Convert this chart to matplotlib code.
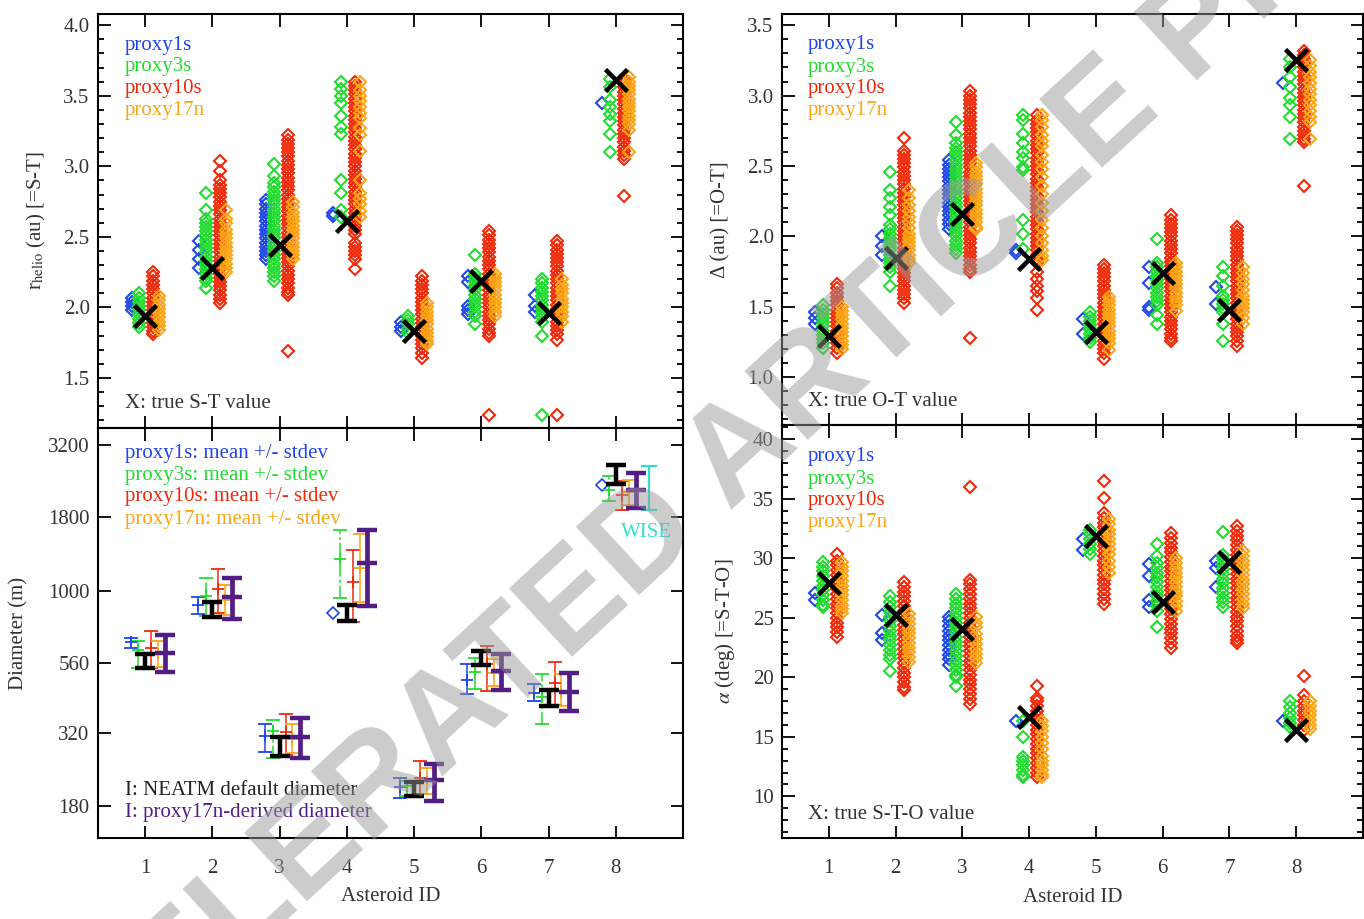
import numpy as np
import matplotlib
matplotlib.use("Agg")
import matplotlib.pyplot as plt
from matplotlib.ticker import MultipleLocator, NullLocator, FixedLocator, FixedFormatter

plt.rcParams['font.family'] = ['Liberation Serif', 'DejaVu Serif']
plt.rcParams['mathtext.fontset'] = 'stix'

ids = [1, 2, 3, 4, 5, 6, 7, 8]
proxies = ["proxy1s", "proxy3s", "proxy10s", "proxy17n"]

# colours per proxy
C_BLUE = '#2046e8'
C_GREEN = '#22dc30'
C_RED = '#ee2a0a'
C_ORANGE = '#fca516'
C_PURPLE = '#521d85'
C_CYAN = '#2ee0d0'
TXT = '#333333'

# ---- heliocentric distance r (au), one list per asteroid ----
r_p1s = [
    [2.07, 2.04, 2.01, 1.98],
    [2.47, 2.41, 2.34, 2.28],
    [2.76, 2.73, 2.70, 2.67, 2.64, 2.61, 2.58, 2.55, 2.52, 2.49, 2.46, 2.43, 2.40, 2.37, 2.34],
    [2.67, 2.65],
    [1.90, 1.86, 1.83],
    [2.22, 2.18, 2.01, 1.98, 1.95],
    [2.09, 2.01, 1.97],
    [3.45],
]
r_p3s = [
    [2.10, 2.07, 2.04, 2.01, 1.98, 1.95, 1.92, 1.89, 1.86],
    [2.81, 2.69, 2.63, 2.60, 2.57, 2.54, 2.51, 2.48, 2.45, 2.42, 2.39, 2.36, 2.33, 2.30, 2.27, 2.24, 2.21, 2.19, 2.14],
    [3.02, 2.93, 2.88, 2.85, 2.82, 2.79, 2.76, 2.73, 2.70, 2.67, 2.64, 2.61, 2.58, 2.55, 2.52, 2.49, 2.46, 2.43,
     2.40, 2.37, 2.34, 2.31, 2.28, 2.25, 2.22, 2.19],
    [3.60, 3.55, 3.50, 3.45, 3.36, 3.28, 3.23, 2.90, 2.81, 2.69, 2.64],
    [1.94, 1.91, 1.88, 1.85, 1.82],
    [2.37, 2.24, 2.21, 2.18, 2.15, 2.12, 2.09, 2.06, 2.03, 2.00, 1.97, 1.94, 1.88],
    [2.20, 2.17, 2.14, 2.11, 2.08, 2.05, 2.02, 1.99, 1.96, 1.93, 1.90, 1.80, 1.24],
    [3.62, 3.56, 3.47, 3.42, 3.37, 3.32, 3.23, 3.10],
]
r_p10s = [
    [2.25, 2.22, 2.19, 2.16, 2.13, 2.10, 2.07, 2.04, 2.01, 1.98, 1.95, 1.92, 1.89, 1.86, 1.83, 1.81],
    [3.04, 2.97, 2.90, 2.87, 2.84, 2.81, 2.78, 2.75, 2.72, 2.69, 2.66, 2.63, 2.60, 2.57, 2.54, 2.51, 2.48, 2.45,
     2.42, 2.39, 2.36, 2.33, 2.30, 2.27, 2.24, 2.21, 2.18, 2.15, 2.12, 2.09, 2.06, 2.03],
    [3.22, 3.19, 3.16, 3.13, 3.10, 3.07, 3.04, 3.01, 2.98, 2.95, 2.92, 2.89, 2.86, 2.83, 2.80, 2.77, 2.74, 2.71,
     2.68, 2.65, 2.62, 2.59, 2.56, 2.53, 2.50, 2.47, 2.44, 2.41, 2.38, 2.35, 2.32, 2.29, 2.26, 2.23, 2.20, 2.17,
     2.14, 2.11, 2.09, 1.69],
    [3.60, 3.57, 3.54, 3.51, 3.48, 3.45, 3.42, 3.39, 3.36, 3.33, 3.30, 3.27, 3.24, 3.21, 3.18, 3.15, 3.12, 3.09,
     3.06, 3.03, 3.00, 2.97, 2.94, 2.91, 2.88, 2.85, 2.82, 2.79, 2.76, 2.73, 2.70, 2.67, 2.64, 2.61, 2.58, 2.55,
     2.52, 2.46, 2.43, 2.40, 2.37, 2.34, 2.27],
    [2.22, 2.19, 2.16, 2.13, 2.10, 2.07, 2.04, 2.01, 1.98, 1.95, 1.92, 1.89, 1.86, 1.83, 1.80, 1.77, 1.74, 1.71,
     1.68, 1.64],
    [2.54, 2.51, 2.48, 2.45, 2.42, 2.39, 2.36, 2.33, 2.30, 2.27, 2.24, 2.21, 2.18, 2.15, 2.12, 2.09, 2.06, 2.03,
     2.00, 1.97, 1.94, 1.91, 1.88, 1.85, 1.82, 1.80, 1.24],
    [2.47, 2.44, 2.41, 2.38, 2.35, 2.32, 2.29, 2.26, 2.23, 2.20, 2.17, 2.14, 2.11, 2.08, 2.05, 2.02, 1.99, 1.96,
     1.93, 1.90, 1.87, 1.84, 1.81, 1.77, 1.24],
    [3.62, 3.59, 3.56, 3.53, 3.50, 3.47, 3.44, 3.41, 3.38, 3.35, 3.32, 3.29, 3.26, 3.23, 3.20, 3.17, 3.14, 3.11,
     3.08, 3.05, 2.79],
]
r_p17n = [
    [2.08, 2.05, 2.02, 1.99, 1.96, 1.93, 1.90, 1.87, 1.84],
    [2.69, 2.63, 2.60, 2.55, 2.52, 2.49, 2.46, 2.43, 2.40, 2.37, 2.34, 2.31, 2.28, 2.25],
    [2.75, 2.71, 2.67, 2.64, 2.61, 2.58, 2.55, 2.52, 2.49, 2.46, 2.43, 2.40, 2.37, 2.34],
    [3.60, 3.54, 3.50, 3.46, 3.42, 3.38, 3.34, 3.27, 3.22, 3.11, 2.90, 2.81, 2.77, 2.73, 2.68, 2.64],
    [2.03, 2.00, 1.97, 1.94, 1.91, 1.88, 1.85, 1.82, 1.79, 1.76, 1.74],
    [2.24, 2.21, 2.18, 2.15, 2.12, 2.09, 2.06, 2.03, 2.00, 1.97, 1.94],
    [2.20, 2.16, 2.13, 2.10, 2.06, 2.03, 2.00, 1.97, 1.94, 1.90],
    [3.63, 3.60, 3.57, 3.54, 3.51, 3.48, 3.45, 3.42, 3.39, 3.36, 3.33, 3.30, 3.26, 3.10],
]
r_true = [1.94, 2.28, 2.44, 2.61, 1.83, 2.19, 1.96, 3.61]

# ---- observer distance Delta (au) ----
d_p1s = [
    [1.46, 1.42, 1.38],
    [2.00, 1.93, 1.87],
    [2.54, 2.51, 2.48, 2.45, 2.42, 2.39, 2.36, 2.33, 2.30, 2.27, 2.24, 2.21, 2.18, 2.15, 2.12, 2.09, 2.05],
    [1.90, 1.88],
    [1.41, 1.31],
    [1.78, 1.67, 1.50, 1.48],
    [1.64, 1.52],
    [3.09],
]
d_p3s = [
    [1.51, 1.48, 1.45, 1.42, 1.39, 1.36, 1.33, 1.30, 1.27, 1.24, 1.21],
    [2.46, 2.33, 2.27, 2.21, 2.15, 2.08, 2.05, 2.02, 1.99, 1.96, 1.93, 1.90, 1.87, 1.84, 1.81, 1.78, 1.75, 1.65],
    [2.81, 2.72, 2.66, 2.63, 2.60, 2.57, 2.54, 2.51, 2.48, 2.45, 2.42, 2.39, 2.36, 2.33, 2.30, 2.27, 2.24, 2.21,
     2.18, 2.15, 2.12, 2.09, 2.06, 2.03, 2.00, 1.97, 1.94, 1.91, 1.88],
    [2.86, 2.83, 2.73, 2.66, 2.60, 2.56, 2.49, 2.47, 2.12, 2.02, 1.91],
    [1.46, 1.43, 1.40, 1.37, 1.34, 1.31, 1.28, 1.25],
    [1.98, 1.81, 1.78, 1.75, 1.72, 1.69, 1.66, 1.63, 1.60, 1.57, 1.54, 1.51, 1.44, 1.38],
    [1.78, 1.72, 1.65, 1.58, 1.55, 1.52, 1.49, 1.46, 1.38, 1.26],
    [3.26, 3.20, 3.13, 3.06, 2.98, 2.93, 2.85, 2.69],
]
d_p10s = [
    [1.66, 1.63, 1.60, 1.57, 1.54, 1.51, 1.48, 1.45, 1.42, 1.39, 1.36, 1.33, 1.30, 1.27, 1.24, 1.21, 1.17],
    [2.70, 2.61, 2.58, 2.55, 2.52, 2.49, 2.46, 2.43, 2.40, 2.37, 2.34, 2.31, 2.28, 2.25, 2.22, 2.19, 2.16, 2.13,
     2.10, 2.07, 2.04, 2.01, 1.98, 1.95, 1.92, 1.89, 1.86, 1.83, 1.80, 1.77, 1.74, 1.71, 1.68, 1.65, 1.62, 1.59,
     1.56, 1.53],
    [3.03, 3.00, 2.97, 2.94, 2.91, 2.88, 2.85, 2.82, 2.79, 2.76, 2.73, 2.70, 2.67, 2.64, 2.61, 2.58, 2.55, 2.52,
     2.49, 2.46, 2.43, 2.40, 2.37, 2.34, 2.31, 2.28, 2.25, 2.22, 2.19, 2.16, 2.13, 2.10, 2.07, 2.04, 2.01, 1.98,
     1.95, 1.92, 1.89, 1.86, 1.83, 1.80, 1.77, 1.75, 1.28],
    [2.86, 2.83, 2.80, 2.77, 2.74, 2.71, 2.68, 2.65, 2.62, 2.59, 2.56, 2.53, 2.50, 2.47, 2.44, 2.41, 2.38, 2.35,
     2.32, 2.29, 2.26, 2.23, 2.20, 2.17, 2.14, 2.11, 2.08, 2.05, 2.02, 1.99, 1.96, 1.93, 1.90, 1.87, 1.84, 1.81,
     1.75, 1.70, 1.65, 1.61, 1.56, 1.48],
    [1.80, 1.77, 1.74, 1.71, 1.68, 1.65, 1.62, 1.59, 1.56, 1.53, 1.50, 1.47, 1.44, 1.41, 1.38, 1.35, 1.32, 1.29,
     1.26, 1.23, 1.20, 1.17, 1.13],
    [2.15, 2.12, 2.09, 2.06, 2.03, 2.00, 1.97, 1.94, 1.91, 1.88, 1.85, 1.82, 1.79, 1.76, 1.73, 1.70, 1.67, 1.64,
     1.61, 1.58, 1.55, 1.52, 1.49, 1.46, 1.43, 1.40, 1.37, 1.34, 1.31, 1.28, 1.26],
    [2.07, 2.04, 2.01, 1.98, 1.95, 1.92, 1.89, 1.86, 1.83, 1.80, 1.77, 1.74, 1.71, 1.68, 1.65, 1.62, 1.59, 1.56,
     1.53, 1.50, 1.47, 1.44, 1.41, 1.38, 1.35, 1.32, 1.29, 1.26, 1.22],
    [3.32, 3.29, 3.26, 3.23, 3.20, 3.17, 3.14, 3.11, 3.08, 3.05, 3.02, 2.99, 2.96, 2.93, 2.90, 2.87, 2.84, 2.81,
     2.78, 2.75, 2.72, 2.69, 2.67, 2.36],
]
d_p17n = [
    [1.50, 1.47, 1.44, 1.41, 1.38, 1.35, 1.32, 1.29, 1.26, 1.23, 1.20],
    [2.33, 2.27, 2.22, 2.18, 2.14, 2.10, 2.06, 2.02, 1.99, 1.96, 1.93, 1.90, 1.87, 1.84, 1.81],
    [2.52, 2.49, 2.46, 2.43, 2.40, 2.37, 2.34, 2.31, 2.28, 2.25, 2.22, 2.19, 2.16, 2.13, 2.10, 2.07, 2.05],
    [2.86, 2.83, 2.78, 2.72, 2.68, 2.64, 2.58, 2.53, 2.48, 2.42, 2.36, 2.30, 2.24, 2.18, 2.12, 2.06, 2.00, 1.95,
     1.90, 1.86, 1.83],
    [1.57, 1.54, 1.51, 1.48, 1.45, 1.42, 1.39, 1.36, 1.33, 1.30, 1.27, 1.24, 1.19],
    [1.81, 1.78, 1.75, 1.72, 1.69, 1.66, 1.63, 1.60, 1.57, 1.54, 1.51, 1.47],
    [1.78, 1.74, 1.70, 1.66, 1.62, 1.58, 1.55, 1.52, 1.49, 1.46, 1.42, 1.38],
    [3.25, 3.21, 3.17, 3.13, 3.09, 3.05, 3.01, 2.97, 2.93, 2.89, 2.85, 2.81, 2.69],
]
d_true = [1.29, 1.85, 2.16, 1.84, 1.32, 1.74, 1.48, 3.25]

# ---- phase angle alpha (deg) ----
a_p1s = [
    [27.1, 26.5],
    [25.2, 23.7, 23.1],
    [25.1, 24.7, 24.3, 23.9, 23.5, 23.1, 22.7, 22.3, 21.9, 21.5, 21.0],
    [16.3],
    [31.6, 30.7],
    [29.5, 28.5, 26.5, 25.9],
    [29.8, 29.2, 27.6],
    [16.3],
]
a_p3s = [
    [29.7, 29.3, 28.9, 28.5, 28.1, 27.7, 27.3, 26.9, 26.5, 26.1, 25.9],
    [26.8, 26.3, 25.9, 25.5, 25.1, 24.7, 24.3, 23.9, 23.5, 23.1, 22.7, 22.3, 21.9, 21.5, 20.5],
    [27.0, 26.6, 26.2, 25.8, 25.4, 25.0, 24.6, 24.2, 23.8, 23.4, 23.0, 22.6, 22.2, 21.8, 21.4, 21.0, 20.6, 20.2,
     20.0, 19.3],
    [16.3, 15.0, 13.3, 13.0, 12.6, 12.2, 11.8, 11.6],
    [32.4, 32.0, 31.6, 31.2, 30.8, 30.4],
    [31.2, 30.2, 29.6, 29.2, 28.8, 28.4, 28.0, 27.6, 27.2, 26.8, 26.4, 26.0, 25.6, 24.2],
    [32.2, 30.3, 29.9, 29.5, 29.1, 28.7, 28.3, 27.9, 27.5, 27.1, 26.7, 26.3, 25.9],
    [18.0, 17.5, 17.0, 16.6, 16.2, 15.8],
]
a_p10s = [
    [30.4, 29.8, 29.4, 29.0, 28.6, 28.2, 27.8, 27.4, 27.0, 26.6, 26.2, 25.8, 25.4, 25.0, 24.6, 24.2, 23.8, 23.4],
    [28.0, 27.6, 27.2, 26.8, 26.4, 26.0, 25.6, 25.2, 24.8, 24.4, 24.0, 23.6, 23.2, 22.8, 22.4, 22.0, 21.6, 21.2,
     20.8, 20.4, 20.0, 19.6, 19.2, 18.9],
    [36.0, 28.2, 27.8, 27.4, 27.0, 26.6, 26.2, 25.8, 25.4, 25.0, 24.6, 24.2, 23.8, 23.4, 23.0, 22.6, 22.2, 21.8,
     21.4, 21.0, 20.6, 20.2, 19.8, 19.4, 19.0, 18.6, 18.2, 17.8],
    [19.3, 18.3, 18.0, 17.6, 17.2, 16.8, 16.4, 16.0, 15.6, 15.2, 14.8, 14.4, 14.0, 13.6, 13.2, 12.8, 12.4, 12.0,
     11.6],
    [36.5, 35.1, 33.8, 33.4, 33.0, 32.6, 32.2, 31.8, 31.4, 31.0, 30.6, 30.2, 29.8, 29.4, 29.0, 28.6, 28.2, 27.8,
     27.4, 27.0, 26.6, 26.2],
    [32.1, 31.7, 31.3, 30.9, 30.5, 30.1, 29.7, 29.3, 28.9, 28.5, 28.1, 27.7, 27.3, 26.9, 26.5, 26.1, 25.7, 25.3,
     24.9, 24.5, 24.1, 23.7, 23.3, 22.9, 22.5],
    [32.7, 32.3, 31.9, 31.5, 31.1, 30.7, 30.3, 29.9, 29.5, 29.1, 28.7, 28.3, 27.9, 27.5, 27.1, 26.7, 26.3, 25.9,
     25.5, 25.1, 24.7, 24.3, 23.9, 23.5, 23.1, 22.9],
    [20.1, 18.5, 18.0, 17.6, 17.2, 16.8, 16.4, 16.0, 15.6],
]
a_p17n = [
    [29.7, 29.3, 28.9, 28.5, 28.1, 27.7, 27.3, 26.9, 26.5, 26.1, 25.7, 25.4],
    [25.3, 24.9, 24.5, 24.1, 23.7, 23.3, 22.9, 22.5, 22.1, 21.7, 21.3],
    [25.1, 24.6, 24.2, 23.6, 23.2, 22.8, 22.4, 22.0, 21.6, 21.2],
    [16.3, 15.9, 15.5, 15.0, 14.5, 14.0, 13.4, 13.0, 12.6, 12.2, 11.8, 11.6],
    [33.3, 32.9, 32.4, 32.0, 31.6, 31.2, 30.8, 30.4, 29.8, 29.3, 28.8],
    [30.0, 29.6, 29.2, 28.8, 28.4, 28.0, 27.6, 27.2, 26.8, 26.4, 26.0, 25.6],
    [30.6, 30.2, 29.8, 29.4, 29.0, 28.6, 28.2, 27.8, 27.4, 27.0, 26.6, 26.2, 25.8],
    [18.0, 17.6, 17.2, 16.8, 16.4, 16.0, 15.7],
]
a_true = [27.9, 25.2, 24.1, 16.7, 31.9, 26.3, 29.7, 15.6]

# ---- diameters (m): mean and mean-/+stdev ----
nan = np.nan
D1s_mean = [662, 893, 314, nan, 208, 492, 443, nan]
D1s_lo = [631, 830, 277, nan, 191, 437, 416, nan]
D1s_hi = [686, 953, 344, nan, 224, 555, 473, nan]
D1s_single = [nan, nan, nan, 835, nan, nan, nan, 2320]  # single-valued cases (diamond)
D3s_mean = [625, 960, 327, 1288, 210, 523, 428, 2240]
D3s_lo = [538, 820, 263, 940, 194, 455, 346, 2050]
D3s_hi = [670, 1107, 355, 1625, 219, 586, 513, 2496]
D10s_mean = [633, 1014, 325, 1075, 224, 558, 479, 2143]
D10s_lo = [538, 835, 270, 777, 197, 449, 403, 1900]
D10s_hi = [722, 1190, 374, 1380, 256, 643, 565, 2390]
D17n_mean = [602, 930, 307, 1200, 220, 520, 450, 2200]
D17n_lo = [542, 826, 274, 912, 197, 466, 398, 1980]
D17n_hi = [670, 1050, 344, 1577, 243, 578, 513, 2420]
Dneatm_lo = [538, 812, 268, 783, 194, 551, 398, 2350]
Dneatm_hi = [604, 912, 312, 890, 217, 618, 452, 2730]
Dder_mean = [610, 948, 312, 1250, 220, 526, 447, 2230]
Dder_lo = [524, 800, 264, 882, 187, 452, 382, 1928]
Dder_hi = [700, 1107, 361, 1625, 250, 605, 520, 2565]
wise_lo = 1900
wise_hi = 2710
d_ticks = [180, 320, 560, 1000, 1800, 3200]

W, H = 1364, 919
fig = plt.figure(figsize=(W / 100, H / 100), dpi=100)


def px_axes(x0, y0, x1, y1):
    return fig.add_axes([x0 / W, 1 - y1 / H, (x1 - x0) / W, (y1 - y0) / H])


ax_r = px_axes(98, 14, 683, 428)
ax_D = px_axes(98, 428, 683, 838)
ax_d = px_axes(782, 14, 1363, 425)
ax_a = px_axes(782, 425, 1363, 838)


def style(ax, bottom_labels):
    ax.set_xlim(0.3, 9.0)
    ax.xaxis.set_major_locator(FixedLocator(ids))
    ax.xaxis.set_minor_locator(NullLocator())
    ax.tick_params(which='both', direction='in', top=True, right=True, width=1.3,
                   colors='black', labelcolor=TXT, labelsize=15)
    ax.tick_params(which='major', length=9)
    ax.tick_params(which='minor', length=4.5)
    ax.tick_params(axis='y', pad=6)
    ax.tick_params(axis='x', pad=15, labelbottom=bottom_labels)
    for s in ax.spines.values():
        s.set_linewidth(1.5)
    if bottom_labels:
        ax.set_xlabel("Asteroid ID", fontsize=15, color=TXT)
        ax.xaxis.set_label_coords(0.5, -0.12)


offs = [-0.2, -0.09, 0.12, 0.2]
cols = [C_BLUE, C_GREEN, C_RED, C_ORANGE]


def columns(ax, series, truth):
    for data, dx, c in zip(series, offs, cols):
        for i, vals in enumerate(data):
            ax.plot(np.full(len(vals), ids[i] + dx), vals, ls='none', marker='D', ms=6.3,
                    mfc='none', mec=c, mew=1.5, zorder=3)
    ax.plot(ids, truth, ls='none', marker='x', ms=16, mew=3.3, color='black', zorder=5)


def legend_block(ax, labels, x, ys):
    for lab, c, y in zip(labels, cols, ys):
        ax.text(x, y, lab, color=c, fontsize=15, transform=ax.transAxes, va='center', ha='left')


# top left: r_helio
columns(ax_r, [r_p1s, r_p3s, r_p10s, r_p17n], r_true)
style(ax_r, False)
ax_r.set_ylim(1.145, 4.08)
ax_r.yaxis.set_major_locator(MultipleLocator(0.5))
ax_r.yaxis.set_minor_locator(MultipleLocator(0.1))
ax_r.yaxis.set_major_formatter('{x:.1f}')
ax_r.set_ylabel(r'r$_{\mathrm{helio}}$ (au) [=S-T]', fontsize=15, color=TXT)
ax_r.yaxis.set_label_coords(-0.086, 0.5)
legend_block(ax_r, proxies, 0.046, [0.925, 0.872, 0.819, 0.766])
ax_r.text(0.046, 0.058, "X: true S-T value", transform=ax_r.transAxes, fontsize=15, color=TXT, va='center')

# top right: Delta
columns(ax_d, [d_p1s, d_p3s, d_p10s, d_p17n], d_true)
style(ax_d, False)
ax_d.set_ylim(0.66, 3.58)
ax_d.yaxis.set_major_locator(MultipleLocator(0.5))
ax_d.yaxis.set_minor_locator(MultipleLocator(0.1))
ax_d.yaxis.set_major_formatter('{x:.1f}')
ax_d.set_ylabel('Δ (au) [=O-T]', fontsize=15, color=TXT)
ax_d.yaxis.set_label_coords(-0.088, 0.5)
legend_block(ax_d, proxies, 0.045, [0.925, 0.871, 0.818, 0.764])
ax_d.text(0.045, 0.056, "X: true O-T value", transform=ax_d.transAxes, fontsize=15, color=TXT, va='center')

# bottom right: alpha
columns(ax_a, [a_p1s, a_p3s, a_p10s, a_p17n], a_true)
style(ax_a, True)
ax_a.set_ylim(6.5, 41.2)
ax_a.yaxis.set_major_locator(MultipleLocator(5))
ax_a.yaxis.set_minor_locator(MultipleLocator(1))
ax_a.set_ylabel(r'$\alpha$ (deg) [=S-T-O]', fontsize=15, color=TXT)
ax_a.yaxis.set_label_coords(-0.078, 0.5)
legend_block(ax_a, proxies, 0.045, [0.923, 0.869, 0.816, 0.763])
ax_a.text(0.045, 0.058, "X: true S-T-O value", transform=ax_a.transAxes, fontsize=15, color=TXT, va='center')

# bottom left: diameters
x = np.array(ids, dtype=float)


def ebar(dx, mean, lo, hi, color, lw=1.1, cap=5, marker='+', ms=8, mew=1.3, ls=None, z=3):
    mean = np.array(mean, float)
    err = [mean - np.array(lo, float), np.array(hi, float) - mean]
    art = ax_D.errorbar(x + dx, mean, yerr=err, fmt=marker, ms=ms, mew=mew, color=color,
                        elinewidth=lw, capsize=cap, capthick=lw, zorder=z)
    if ls is not None:
        art[2][0].set_linestyle(ls)
    return art


ebar(-0.21, D1s_mean, D1s_lo, D1s_hi, C_BLUE)
ax_D.plot(x - 0.2, D1s_single, ls='none', marker='D', ms=6, mfc='none', mec=C_BLUE, mew=1.2, zorder=3)
ebar(-0.10, D3s_mean, D3s_lo, D3s_hi, C_GREEN, ls=(0, (8, 2, 2, 2)))
nlo = np.array(Dneatm_lo, float)
nhi = np.array(Dneatm_hi, float)
nmid = np.sqrt(nlo * nhi)
ax_D.errorbar(x, nmid, yerr=[nmid - nlo, nhi - nmid], fmt='none', color='black',
              elinewidth=3.2, capsize=7, capthick=3.2, zorder=4)
ebar(0.09, D10s_mean, D10s_lo, D10s_hi, C_RED)
ebar(0.19, D17n_mean, D17n_lo, D17n_hi, C_ORANGE)
ebar(0.30, Dder_mean, Dder_lo, Dder_hi, C_PURPLE, lw=3.4, cap=7, marker='_', ms=14, mew=3.2, z=4)
wmid = np.sqrt(wise_lo * wise_hi)
ax_D.errorbar([8.5], [wmid], yerr=[[wmid - wise_lo], [wise_hi - wmid]], fmt='none', color=C_CYAN,
              elinewidth=1.6, capsize=6, capthick=1.6, zorder=3)

style(ax_D, True)
ax_D.set_yscale('log')
ax_D.set_ylim(139, 3660)
ax_D.yaxis.set_major_locator(FixedLocator(d_ticks))
ax_D.yaxis.set_major_formatter(FixedFormatter([str(t) for t in d_ticks]))
ax_D.yaxis.set_minor_locator(NullLocator())
ax_D.set_ylabel('Diameter (m)', fontsize=15, color=TXT)
ax_D.yaxis.set_label_coords(-0.118, 0.5)
for lab, c, y in zip(proxies, cols, [0.939, 0.885, 0.832, 0.778]):
    ax_D.text(0.046, y, lab + ": mean +/- stdev", color=c, fontsize=15, transform=ax_D.transAxes, va='center')
ax_D.text(0.046, 0.117, "I: NEATM default diameter", color='#222222', fontsize=15, transform=ax_D.transAxes,
          va='center')
ax_D.text(0.046, 0.063, "I: proxy17n-derived diameter", color=C_PURPLE, fontsize=15, transform=ax_D.transAxes,
          va='center')
ax_D.text(0.938, 0.746, "WISE", color=C_CYAN, fontsize=15, transform=ax_D.transAxes, va='center', ha='center')

# watermark across the page
fig.text(0.572, 0.546, "ACCELERATED ARTICLE PREVIEW", rotation=42.7, rotation_mode='anchor',
         ha='center', va='center', fontsize=98, fontweight='bold', color='#9a9a9a', alpha=0.5,
         family='Liberation Sans', zorder=20)

fig.savefig("out.png", dpi=100)
